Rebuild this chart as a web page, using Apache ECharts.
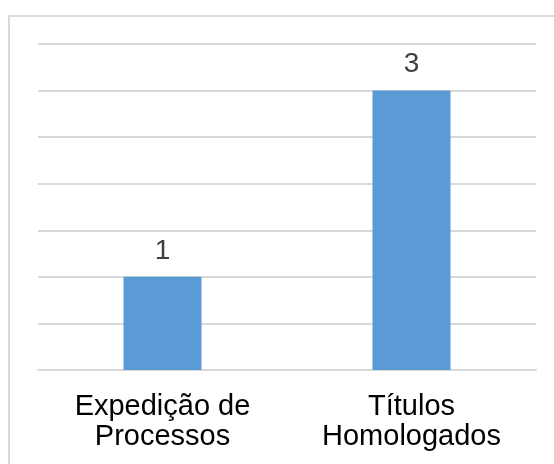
<!DOCTYPE html>
<html>
<head>
<meta charset="utf-8">
<script src="https://cdn.jsdelivr.net/npm/echarts@6/dist/echarts.min.js"></script>
<style>
  html, body { margin: 0; padding: 0; background: #fff; }
  #frame {
    position: absolute;
    left: 8px;
    top: 15px;
    width: 560px;
    height: 470px;
    border-top: 2px solid #d9d9d9;
    border-left: 2px solid #d9d9d9;
  }
  #myChart {
    position: absolute;
    left: 0;
    top: 0;
    width: 554px;
    height: 464px;
  }
</style>
</head>
<body>
<div id="frame"></div>
<div id="myChart"></div>
<script>
const categories = ['Expedição de\nProcessos', 'Títulos\nHomologados']
const values = [1, 3]

const myChart = echarts.init(document.getElementById('myChart'))
myChart.setOption({
  animation: false,
  grid: {
    left: 38,
    right: 18,
    top: 44,
    bottom: 94
  },
  xAxis: {
    type: 'category',
    data: categories,
    axisTick: { show: false },
    axisLine: { lineStyle: { color: '#d9d9d9', width: 2 } },
    axisLabel: {
      color: '#000',
      fontFamily: 'Liberation Sans, Arial, sans-serif',
      fontSize: 29,
      lineHeight: 30,
      margin: 22
    }
  },
  yAxis: {
    type: 'value',
    min: 0,
    max: 3.5,
    interval: 0.5,
    axisLabel: { show: false },
    axisLine: { show: false },
    axisTick: { show: false },
    splitLine: { lineStyle: { color: '#d9d9d9', width: 2 } }
  },
  series: [
    {
      type: 'bar',
      data: values,
      barWidth: 78,
      itemStyle: { color: '#5b9bd5' },
      label: {
        show: true,
        position: 'top',
        distance: 12,
        color: '#404040',
        fontFamily: 'Liberation Sans, Arial, sans-serif',
        fontSize: 28
      }
    }
  ]
})
</script>
</body>
</html>
